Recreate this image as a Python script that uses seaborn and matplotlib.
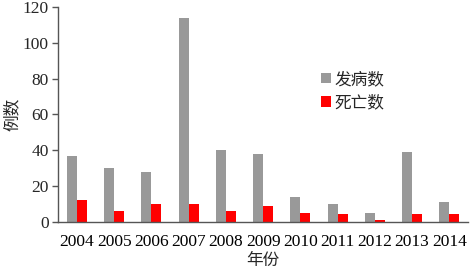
import matplotlib
matplotlib.use("Agg")
import matplotlib.pyplot as plt
import seaborn as sns
import pandas as pd
from matplotlib.ticker import FixedLocator

years = ["2004", "2005", "2006", "2007", "2008", "2009", "2010", "2011", "2012", "2013", "2014"]
onset = [37, 30, 28, 114, 40, 38, 14, 10, 5, 39, 11]
deaths = [12, 6, 10, 10, 6, 9, 5, 4, 1, 4, 4]
series_names = ["发病数", "死亡数"]
colors = ["#999999", "#FF0000"]

df = pd.DataFrame({
    "年份": years * 2,
    "例数": onset + deaths,
    "类别": [series_names[0]] * len(years) + [series_names[1]] * len(years),
})

sns.set_style("white")
plt.rcParams['font.family'] = ['Liberation Serif', 'Noto Sans CJK SC']

fig = plt.figure(figsize=(4.72, 2.68), dpi=100)
ax = fig.add_axes([0.1235, 0.173, 0.868, 0.80])

sns.barplot(data=df, x="年份", y="例数", hue="类别", palette=colors,
            width=0.54, dodge=True, ax=ax, saturation=1, linewidth=0)

ax.set_xlim(-0.5, len(years) - 0.5)
ax.set_ylim(0, 120)
ax.set_yticks(range(0, 121, 20))

# ticks at group boundaries, labels at centers
ax.tick_params(axis='x', which='major', length=0, labelsize=12.5, pad=9, colors='black')
ax.xaxis.set_minor_locator(FixedLocator([i - 0.5 for i in range(len(years) + 1)]))
ax.tick_params(axis='x', which='minor', length=5, width=1, color='#555555', direction='out')
ax.tick_params(axis='y', which='major', length=4, width=1, color='#555555',
               labelsize=12.5, pad=3, direction='out', left=True)

for s in ["top", "right"]:
    ax.spines[s].set_visible(False)
for s in ["left", "bottom"]:
    ax.spines[s].set_color("#555555")
    ax.spines[s].set_linewidth(1)

ax.set_xlabel("年份", fontsize=12, labelpad=2)
ax.set_ylabel("例数", fontsize=12, labelpad=1)

leg = ax.legend(loc="upper left", bbox_to_anchor=(0.625, 0.73), frameon=False,
                fontsize=12, handlelength=0.6, handleheight=0.6, handletextpad=0.2,
                labelspacing=0.45, borderaxespad=0)
leg.set_title(None)

fig.savefig("out.png", dpi=100)
